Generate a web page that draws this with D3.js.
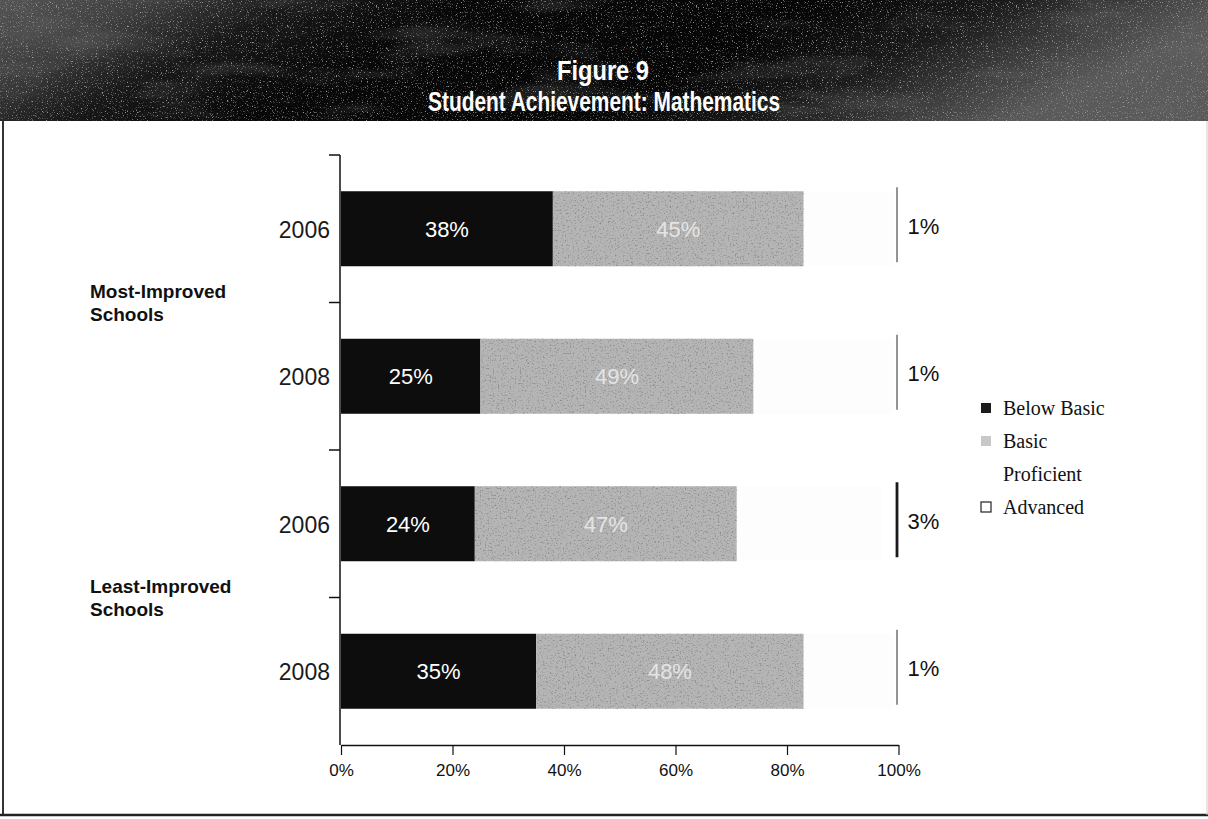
<!DOCTYPE html>
<html>
<head>
<meta charset="utf-8">
<script src="https://cdn.jsdelivr.net/npm/d3@7/dist/d3.min.js"></script>
<style>
  html, body { margin: 0; padding: 0; background: #fff; }
  svg { display: block; }
  .sans { font-family: "Liberation Sans", Arial, sans-serif; }
  .serif { font-family: "Liberation Serif", "Times New Roman", serif; }
</style>
</head>
<body>
<script>
// Row labels (top to bottom) and their school groups
const rowLabels = ["2006", "2008", "2006", "2008"];
const groupLabels = [["Most-Improved", "Schools"], ["Least-Improved", "Schools"]];

// Percent of students at each achievement level, per row
const belowBasic = [38, 25, 24, 35];
const basic      = [45, 49, 47, 48];
const proficient = [16, 25, 26, 16];
const advanced   = [1, 1, 3, 1];

const levels = ["Below Basic", "Basic", "Proficient", "Advanced"];
const xTicks = [0, 20, 40, 60, 80, 100];

const W = 1208, H = 819;
const levelFill = { "Below Basic": "#0d0d0d", "Basic": "#b5b5b5", "Proficient": "#fdfdfd", "Advanced": "#1a1a1a" };

const svg = d3.select("body").append("svg").attr("width", W).attr("height", H);
const defs = svg.append("defs");

// speckle texture: noise thresholded into flecks of a given grey, kept inside the shape
function speckleFilter(id, freq, grey, gain, offset, seed) {
  const f = defs.append("filter").attr("id", id).attr("x", 0).attr("y", 0).attr("width", 1).attr("height", 1)
    .attr("color-interpolation-filters", "sRGB");
  f.append("feTurbulence").attr("type", "fractalNoise").attr("baseFrequency", freq).attr("numOctaves", 2).attr("seed", seed).attr("result", "n");
  f.append("feColorMatrix").attr("in", "n").attr("type", "matrix")
    .attr("values", `0 0 0 0 ${grey}  0 0 0 0 ${grey}  0 0 0 0 ${grey}  ${gain} 0 0 0 ${offset}`).attr("result", "speck");
  f.append("feComposite").attr("in", "speck").attr("in2", "SourceGraphic").attr("operator", "in").attr("result", "sp");
  f.append("feMerge").call(m => { m.append("feMergeNode").attr("in", "SourceGraphic"); m.append("feMergeNode").attr("in", "sp"); });
}
speckleFilter("grain", "0.8", 0.6, 5, -3.0, 7);      // header band
speckleFilter("dots", "0.6", 0.55, 4, -2.2, 11);     // Basic bars

// broad diagonal mottling for the header band
const streak = defs.append("filter").attr("id", "streak").attr("x", 0).attr("y", 0).attr("width", 1).attr("height", 1)
  .attr("color-interpolation-filters", "sRGB");
streak.append("feTurbulence").attr("type", "fractalNoise").attr("baseFrequency", "0.008 0.035").attr("numOctaves", 3).attr("seed", 3).attr("result", "t");
streak.append("feColorMatrix").attr("in", "t").attr("type", "matrix")
  .attr("values", "0 0 0 0 0.45  0 0 0 0 0.45  0 0 0 0 0.45  3 0 0 0 -1.6");

const bandGrad = defs.append("linearGradient").attr("id", "bandGrad").attr("x1", 0).attr("x2", 1).attr("y1", 0).attr("y2", 0.2);
[[0, "#555"], [0.12, "#404040"], [0.24, "#181818"], [0.38, "#080808"], [0.66, "#060606"], [0.8, "#1a1a1a"], [0.9, "#3c3c3c"], [1, "#5a5a5a"]]
  .forEach(([o, c]) => bandGrad.append("stop").attr("offset", o).attr("stop-color", c));

// ---- header band ----
const bandH = 121;
svg.append("rect").attr("x", 0).attr("y", 0).attr("width", W).attr("height", bandH)
  .attr("fill", "url(#bandGrad)").attr("filter", "url(#grain)");
svg.append("rect").attr("x", 0).attr("y", 0).attr("width", W).attr("height", bandH)
  .attr("fill", "#000").attr("filter", "url(#streak)").attr("opacity", 0.3);

svg.append("text").attr("class", "sans").attr("x", W / 2 - 1).attr("y", 80)
  .attr("text-anchor", "middle").attr("font-size", 28).attr("font-weight", "bold").attr("fill", "#fff")
  .attr("textLength", 92).attr("lengthAdjust", "spacingAndGlyphs").text("Figure 9");
svg.append("text").attr("class", "sans").attr("x", W / 2).attr("y", 111)
  .attr("text-anchor", "middle").attr("font-size", 28).attr("font-weight", "bold").attr("fill", "#fff")
  .attr("textLength", 352).attr("lengthAdjust", "spacingAndGlyphs").text("Student Achievement: Mathematics");

// ---- frame ----
svg.append("line").attr("x1", 3).attr("x2", 3).attr("y1", bandH).attr("y2", 815).attr("stroke", "#333").attr("stroke-width", 2);
svg.append("line").attr("x1", 0).attr("x2", W).attr("y1", 815).attr("y2", 815).attr("stroke", "#222").attr("stroke-width", 2.5);
svg.append("line").attr("x1", W - 1).attr("x2", W - 1).attr("y1", bandH).attr("y2", 815).attr("stroke", "#ccc").attr("stroke-width", 1);

// ---- scales ----
const x = d3.scaleLinear().domain([0, 100]).range([341, 898.5]);
const rows = d3.range(rowLabels.length);
const y = d3.scaleBand().domain(rows).range([155, 745]).padding(0);
const barH = 75;
const barTop = i => y(i) + (y.bandwidth() - barH) / 2;

// stacked segments built from the level arrays
const table = rows.map(i => ({ row: i, "Below Basic": belowBasic[i], "Basic": basic[i], "Proficient": proficient[i], "Advanced": advanced[i] }));
const stack = d3.stack().keys(levels)(table);

const chart = svg.append("g");
const mainLevels = stack.filter(s => s.key !== "Advanced");
chart.selectAll("g.level").data(mainLevels).join("g").attr("class", "level")
  .attr("fill", s => levelFill[s.key])
  .attr("filter", s => s.key === "Basic" ? "url(#dots)" : null)
  .selectAll("rect").data(s => s).join("rect")
  .attr("x", d => x(d[0]))
  .attr("width", d => x(d[1]) - x(d[0]))
  .attr("y", d => barTop(d.data.row))
  .attr("height", barH);

// Advanced shares are tiny: drawn as a rule at the end of each bar, weighted by share
const advSeries = stack.find(s => s.key === "Advanced");
const advWeight = d3.scaleLinear().domain([0, 3]).range([0, 2.8]);
chart.selectAll("rect.adv").data(advSeries).join("rect").attr("class", "adv")
  .attr("x", d => x(d[1]) - 1.5 - advWeight(d[1] - d[0]) / 2)
  .attr("width", d => advWeight(d[1] - d[0]))
  .attr("y", d => barTop(d.data.row) - 4)
  .attr("height", barH)
  .attr("fill", levelFill["Advanced"]);

// in-bar value labels
const labelLevels = [["Below Basic", "#fff"], ["Basic", "#e4e4e4"]];
labelLevels.forEach(([key, col]) => {
  const s = stack.find(t => t.key === key);
  chart.selectAll(null).data(s).join("text").attr("class", "sans")
    .attr("x", d => (x(d[0]) + x(d[1])) / 2)
    .attr("y", d => barTop(d.data.row) + barH / 2 + 8)
    .attr("text-anchor", "middle").attr("font-size", 22).attr("fill", col)
    .text(d => (d[1] - d[0]) + "%");
});
chart.selectAll(null).data(advSeries).join("text").attr("class", "sans")
  .attr("x", d => x(d[1]) + 9)
  .attr("y", d => barTop(d.data.row) + barH / 2 + 5)
  .attr("font-size", 22).attr("fill", "#111")
  .text(d => (d[1] - d[0]) + "%");

// ---- y axis ----
const yAxisG = svg.append("g");
yAxisG.append("line").attr("x1", 340).attr("x2", 340).attr("y1", 155).attr("y2", 745).attr("stroke", "#111").attr("stroke-width", 1.5);
yAxisG.selectAll("line.tick").data(rows).join("line").attr("class", "tick")
  .attr("x1", 329).attr("x2", 340).attr("y1", i => y(i)).attr("y2", i => y(i))
  .attr("stroke", "#111").attr("stroke-width", 1.5);
yAxisG.selectAll("text").data(rows).join("text").attr("class", "sans")
  .attr("x", 330).attr("y", i => y(i) + y.bandwidth() / 2 + 9)
  .attr("text-anchor", "end").attr("font-size", 23).attr("fill", "#1a1a1a")
  .text(i => rowLabels[i]);

// group labels sit on the boundary between their two rows
groupLabels.forEach((lines, g) => {
  const yb = y(g * 2 + 1);
  const t = svg.append("text").attr("class", "sans").attr("font-weight", "bold").attr("font-size", 19).attr("fill", "#111");
  lines.forEach((ln, k) => t.append("tspan").attr("x", 90).attr("y", yb - 5 + k * 23).text(ln));
});

// ---- x axis ----
const xAxis = d3.axisBottom(x).tickValues(xTicks).tickSize(10).tickSizeOuter(0).tickFormat(d => d + "%");
const xg = svg.append("g").attr("transform", "translate(0,745)").call(xAxis);
xg.select(".domain").attr("stroke", "#111").attr("stroke-width", 1.5);
xg.selectAll(".tick line").attr("stroke", "#111").attr("stroke-width", 1.2);
xg.selectAll(".tick text").attr("font-size", 17).attr("fill", "#111").attr("dy", "1.05em")
  .style("font-family", "'Liberation Sans', Arial, sans-serif");

// ---- legend ----
const legend = svg.append("g").attr("transform", "translate(981,408)");
const li = legend.selectAll("g").data(levels).join("g").attr("transform", (d, i) => `translate(0,${i * 33})`);
li.append("rect").attr("x", 0).attr("y", -5).attr("width", 10).attr("height", 10)
  .attr("fill", d => d === "Below Basic" ? "#1b1b1b" : d === "Basic" ? "#c8c8c8" : "#fff")
  .attr("stroke", d => d === "Advanced" ? "#222" : "none").attr("stroke-width", 1.2);
li.append("text").attr("class", "serif").attr("x", 22).attr("y", 7)
  .attr("font-size", 20).attr("fill", "#111").text(d => d);
</script>
</body>
</html>
